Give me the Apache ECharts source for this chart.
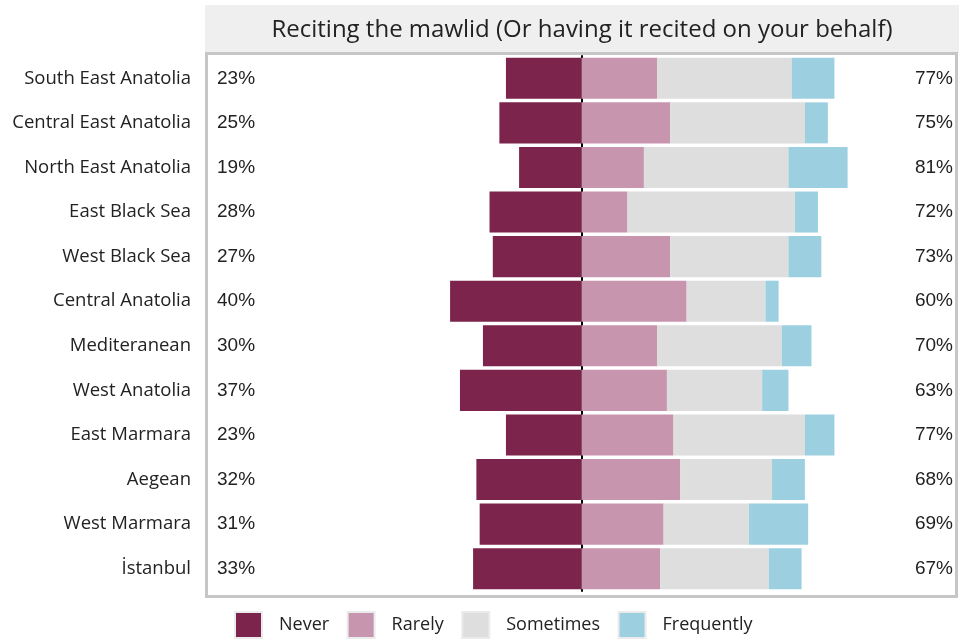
<!DOCTYPE html>
<html>
<head>
<meta charset="utf-8">
<script src="https://cdn.jsdelivr.net/npm/echarts@6/dist/echarts.min.js"></script>
<style>
  html, body { margin: 0; padding: 0; background: #ffffff; }
  #chart { width: 959px; height: 639px; }
</style>
</head>
<body>
<div id="chart"></div>
<script>
// Regions, top to bottom
const regions = [
  'South East Anatolia', 'Central East Anatolia', 'North East Anatolia',
  'East Black Sea', 'West Black Sea', 'Central Anatolia', 'Mediteranean',
  'West Anatolia', 'East Marmara', 'Aegean', 'West Marmara', 'İstanbul'
];

// Share of respondents (%) per answer
const never      = [23, 25, 19, 28, 27, 40, 30, 37, 23, 32, 31, 33];
const rarely     = [23, 27, 19, 14, 27, 32, 23, 26, 28, 30, 25, 24];
const sometimes  = [41, 41, 44, 51, 36, 24, 38, 29, 40, 28, 26, 33];
const frequently = [13,  7, 18,  7, 10,  4,  9,  8,  9, 10, 18, 10];

const answers = ['Never', 'Rarely', 'Sometimes', 'Frequently'];
const colors  = ['#7c244b', '#c895ae', '#dedede', '#9cd0e0'];
const titleText = 'Reciting the mawlid (Or having it recited on your behalf)';

// Total of the non-"Never" answers per region
const atLeastOnce = regions.map((_, i) => rarely[i] + sometimes[i] + frequently[i]);

const FONT = '"Open Sans", sans-serif';
const NUM_FONT = '"Liberation Sans", Arial, sans-serif';

const chart = echarts.init(document.getElementById('chart'), null, { renderer: 'canvas' });

const catAxisBase = {
  type: 'category',
  data: regions,
  inverse: true,
  axisTick: { show: false },
  splitLine: { show: false }
};

const series = [
  { name: 'Never', data: never.map(v => -v), itemStyle: { color: colors[0] } },
  { name: 'Rarely', data: rarely, itemStyle: { color: colors[1] } },
  { name: 'Sometimes', data: sometimes, itemStyle: { color: colors[2] } },
  { name: 'Frequently', data: frequently, itemStyle: { color: colors[3] } }
].map(s => Object.assign({
  type: 'bar',
  stack: 'total',
  barCategoryGap: '8%',
  z: 3,
  emphasis: { disabled: true }
}, s));

chart.setOption({
  animation: false,
  backgroundColor: '#ffffff',
  title: {
    text: titleText,
    left: 582,
    textAlign: 'center',
    top: 18,
    padding: 0,
    textStyle: { fontFamily: FONT, fontSize: 24, fontWeight: 'normal', color: '#222222' }
  },
  graphic: [
    { type: 'rect', z: -10, shape: { x: 205, y: 5, width: 754, height: 48 }, style: { fill: '#efefef' }, silent: true },
    { type: 'rect', z: 100, shape: { x: 206.5, y: 53.5, width: 750, height: 543 }, style: { fill: 'none', stroke: '#c6c6c6', lineWidth: 3 }, silent: true }
  ],
  grid: { left: 207, right: 3, top: 56, bottom: 48, containLabel: false },
  xAxis: {
    type: 'value',
    min: -114,
    max: 114,
    show: false
  },
  yAxis: [
    Object.assign({}, catAxisBase, {
      position: 'left',
      axisLine: { show: false, onZero: false },
      axisLabel: { margin: 16, padding: [4, 0, 0, 0], fontFamily: FONT, fontSize: 18.5, color: '#222222' }
    }),
    Object.assign({}, catAxisBase, {
      position: 'left',
      axisLine: { show: false, onZero: false },
      axisLabel: {
        inside: true, margin: 10, padding: [3, 0, 0, 0], fontFamily: NUM_FONT, fontSize: 19, color: '#222222',
        formatter: (v, i) => never[i] + '%'
      }
    }),
    Object.assign({}, catAxisBase, {
      position: 'right',
      axisLine: { show: false, onZero: false },
      axisLabel: {
        inside: true, margin: 3, padding: [3, 0, 0, 0], fontFamily: NUM_FONT, fontSize: 19, color: '#222222',
        formatter: (v, i) => atLeastOnce[i] + '%'
      }
    }),
    // zero line between negative and positive answers
    Object.assign({}, catAxisBase, {
      position: 'left',
      axisLine: { show: true, onZero: true, lineStyle: { color: '#000000', width: 2 } },
      axisLabel: { show: false }
    })
  ],
  legend: {
    data: answers,
    left: 234,
    top: 611,
    padding: 0,
    icon: 'rect',
    itemWidth: 27,
    itemHeight: 26,
    itemGap: 17.5,
    itemStyle: { borderColor: '#ebebeb', borderWidth: 2 },
    textStyle: { fontFamily: FONT, fontSize: 18, color: '#222222', padding: [2, 0, 0, 12] },
    selectedMode: false
  },
  series: series
});
</script>
</body>
</html>
